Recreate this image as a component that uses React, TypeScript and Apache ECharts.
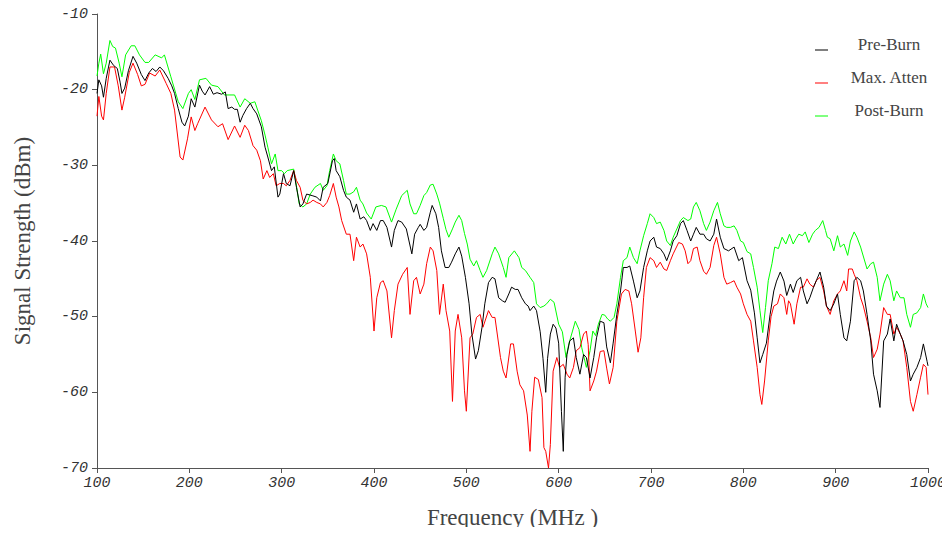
import React, { useEffect, useRef } from "react";
import * as echarts from "echarts";

// Frequency (MHz) / signal strength (dBm) pairs
const preBurn: [number, number][] = [
  [100, -20.5], [102, -18.7], [105, -19.5], [107, -21], [110, -18.5], [114, -16.1], [118, -16.8], [122, -17.2],
  [125, -19], [127, -20.5], [130, -19.8], [134, -17.5], [139, -15.6], [143, -16.5], [148, -18], [152, -18.8],
  [156, -17.8], [160, -17.2], [164, -17.6], [168, -17.0], [172, -17.5], [177, -18.5], [181, -19.5], [184, -20.5],
  [188, -22.5], [192, -24.3], [195, -24.8], [199, -23.5], [202, -21.2], [206, -22.3], [211, -19.4], [214, -20.2],
  [217, -20.7], [222, -19.6], [226, -20.6], [230, -20.4], [235, -20.6], [239, -20.3], [242, -22.5], [246, -22.3],
  [249, -22.6], [252, -22.6], [255, -24.3], [258, -23.4], [262, -22.5], [266, -21.8], [269, -22.5], [273, -23.2],
  [278, -24.9], [282, -27.6], [285, -28.9], [289, -30.7], [292, -30.2], [296, -34.2], [298, -33.8], [302, -31.1],
  [305, -32.4], [309, -32.7], [313, -30.7], [316, -32.9], [320, -35.5], [323, -35.1], [327, -33.8], [333, -34.0],
  [338, -34.2], [342, -34.7], [345, -32.9], [350, -32.4], [355, -29.4], [357, -29.1], [359, -30.7], [363, -31.5],
  [367, -33.3], [370, -34.2], [374, -34.6], [378, -36.2], [381, -35.1], [385, -37.1], [389, -36.8], [392, -37.3],
  [396, -38.6], [399, -37.7], [403, -38.6], [407, -37.3], [410, -37.3], [414, -38.2], [419, -40.8], [422, -38.6],
  [426, -37.3], [430, -37.5], [435, -38.4], [441, -41.7], [444, -39.1], [448, -38.2], [450, -37.8], [454, -38.6],
  [457, -38.2], [461, -36.2], [463, -35.3], [467, -36.4], [470, -38.2], [473, -41.3], [477, -43.5], [481, -43.5],
  [484, -42.8], [488, -41.7], [492, -40.8], [495, -42.0], [499, -44.8], [503, -48.3], [506, -52.3], [510, -55.6],
  [513, -54.5], [517, -51.4], [520, -48.3], [524, -45.5], [528, -44.8], [531, -45.0], [535, -47.5], [539, -47.9],
  [542, -48.1], [546, -47.0], [549, -46.1], [553, -46.4], [556, -46.4], [560, -47.5], [564, -48.3], [567, -48.6],
  [569, -49.2], [573, -48.6], [576, -49.2], [580, -52.0], [583, -55.5], [586, -60.0], [588, -55.5], [591, -52.3],
  [594, -51.0], [597, -51.5], [600, -53.5], [603, -62.5], [605, -67.8], [607, -58.0], [609, -55.0], [612, -53.2],
  [616, -52.8], [619, -55.4], [623, -57.6], [627, -55.0], [630, -55.4], [634, -58.1], [638, -55.4], [641, -52.8],
  [645, -50.6], [649, -50.8], [652, -54.0], [656, -56.1], [659, -53.5], [663, -49.7], [667, -46.6], [670, -43.5],
  [674, -43.5], [677, -43.3], [681, -45.3], [685, -47.5], [688, -46.6], [692, -43.5], [696, -41.3], [699, -40.0],
  [703, -39.5], [706, -40.8], [710, -41.0], [714, -41.7], [717, -42.6], [721, -41.3], [724, -40.0], [728, -39.3],
  [732, -37.7], [735, -37.3], [739, -38.6], [743, -40.0], [746, -39.1], [749, -38.2], [753, -39.1], [757, -39.1],
  [760, -39.7], [764, -40.0], [768, -39.1], [771, -37.1], [775, -39.5], [779, -41.0], [784, -41.3], [790, -40.8],
  [795, -42.6], [799, -42.2], [804, -45.25], [808, -46.5], [812, -49.5], [815, -52.8], [818, -56.1], [821, -55.0],
  [825, -53.5], [829, -49.7], [833, -46.6], [836, -45.3], [840, -44.1], [844, -45.3], [847, -47.2], [851, -45.7],
  [854, -46.8], [858, -45.25], [862, -44.8], [865, -46.6], [869, -48.3], [872, -47.5], [876, -46.1], [879, -45.25],
  [883, -44.1], [887, -46.1], [890, -48.6], [894, -49.2], [898, -48.3], [902, -47.0], [905, -49.7], [909, -52.8],
  [912, -53.2], [916, -50.6], [920, -45.25], [923, -44.8], [927, -45.25], [930, -46.6], [934, -49.7], [938, -53.2],
  [941, -57.6], [945, -59.8], [948, -62.0], [952, -53.2], [956, -52.3], [959, -50.3], [963, -53.2], [966, -51.0],
  [970, -52.3], [973, -53.2], [977, -55.0], [981, -58.5], [984, -57.6], [988, -56.7], [992, -55.4], [995, -53.6],
  [999, -55.9], [1000, -56.5],
];

const maxAtten: [number, number][] = [
  [100, -23.5], [102, -20.9], [105, -23.5], [107, -24.0], [110, -20.5], [114, -17.0], [119, -17.0], [123, -19.5],
  [127, -22.7], [130, -21.0], [135, -17.7], [139, -16.5], [144, -18.0], [148, -19.5], [152, -19.3], [157, -17.8],
  [163, -18.2], [168, -17.4], [175, -19.2], [180, -20.5], [184, -22.7], [190, -28.9], [193, -29.3], [198, -26.5],
  [202, -23.6], [206, -25.4], [209, -24.5], [217, -22.3], [224, -24.0], [231, -24.9], [236, -24.5], [242, -26.6],
  [249, -24.8], [255, -26.3], [260, -24.7], [264, -25.4], [269, -27.4], [273, -28.0], [277, -29.4], [280, -31.8],
  [284, -30.7], [287, -31.6], [291, -31.1], [294, -32.7], [298, -32.4], [302, -32.4], [305, -32.7], [309, -32.0],
  [313, -30.7], [316, -32.0], [320, -32.9], [323, -34.6], [327, -35.1], [331, -34.9], [334, -34.6], [338, -34.9],
  [342, -35.1], [345, -35.5], [349, -34.9], [352, -34.0], [356, -32.4], [359, -34.2], [362, -35.5], [365, -37.3],
  [370, -39.1], [374, -39.1], [378, -42.6], [381, -39.5], [385, -40.8], [388, -40.4], [392, -41.7], [396, -44.8],
  [400, -51.9], [403, -47.5], [407, -45.5], [410, -45.25], [414, -46.6], [419, -52.8], [422, -49.2], [426, -45.7],
  [431, -44.4], [436, -43.5], [439, -49.7], [443, -45.25], [446, -44.8], [450, -47.0], [454, -45.7], [457, -43.0],
  [461, -40.8], [464, -41.3], [468, -43.9], [471, -49.7], [475, -45.7], [478, -49.2], [482, -51.9], [485, -61.2],
  [488, -51.9], [491, -49.7], [495, -52.8], [498, -59.8], [500, -62.5], [504, -52.8], [507, -52.3], [511, -50.1],
  [515, -49.7], [518, -51.4], [524, -49.2], [528, -50.1], [531, -50.1], [537, -55.4], [540, -57.2], [543, -58.1],
  [548, -53.6], [551, -53.6], [555, -57.2], [558, -59.0], [562, -59.8], [566, -63.0], [569, -67.8], [571, -62.5],
  [574, -58.0], [578, -58.3], [582, -60.7], [584, -67.3], [586, -67.8], [589, -70.0], [591, -66.9], [594, -57.2],
  [598, -55.4], [601, -56.7], [605, -56.3], [609, -57.6], [612, -58.1], [616, -56.7], [619, -54.5], [623, -54.1],
  [627, -52.3], [630, -51.9], [632, -53.7], [634, -59.8], [638, -58.5], [641, -57.2], [645, -54.6], [649, -54.5],
  [652, -56.8], [655, -58.9], [659, -56.7], [663, -50.6], [668, -47.0], [672, -46.4], [676, -46.6], [679, -48.3],
  [683, -51.9], [686, -54.7], [689, -52.8], [692, -47.5], [695, -43.5], [699, -42.2], [703, -42.6], [706, -43.5],
  [710, -42.8], [714, -43.7], [717, -43.9], [721, -42.6], [724, -41.7], [730, -40.2], [734, -40.4], [737, -41.3],
  [740, -43.0], [743, -42.6], [746, -41.0], [750, -40.8], [753, -42.6], [757, -44.0], [760, -44.4], [764, -43.5],
  [768, -40.6], [771, -39.5], [775, -41.7], [779, -44.8], [782, -45.7], [786, -45.5], [790, -45.25], [793, -46.1],
  [797, -47.0], [800, -48.3], [804, -49.7], [808, -50.6], [811, -53.2], [815, -56.7], [818, -60.3], [820, -61.6],
  [823, -58.5], [827, -53.2], [830, -50.0], [833, -48.6], [837, -48.3], [840, -47.0], [844, -47.5], [847, -49.7],
  [849, -47.9], [851, -48.3], [855, -51.0], [858, -48.3], [862, -46.1], [865, -46.1], [869, -45.0], [872, -45.7],
  [876, -46.1], [879, -45.25], [883, -44.8], [887, -46.6], [890, -48.6], [894, -49.7], [898, -47.9], [902, -47.0],
  [905, -46.6], [909, -45.25], [912, -46.6], [914, -43.7], [918, -43.7], [920, -44.4], [923, -45.25], [927, -47.5],
  [930, -48.6], [934, -50.6], [938, -52.8], [941, -55.4], [945, -54.3], [948, -52.3], [952, -48.8], [956, -49.7],
  [959, -49.7], [963, -52.3], [966, -51.4], [970, -52.3], [973, -53.2], [977, -56.7], [981, -61.2], [984, -62.5],
  [988, -60.3], [992, -58.0], [995, -56.3], [998, -56.7], [1000, -60.3],
];

const postBurn: [number, number][] = [
  [100, -18.2], [102, -16.5], [104, -15.3], [107, -17.9], [110, -16.5], [114, -13.5], [117, -14.3], [120, -14.5],
  [124, -16.5], [127, -18.3], [131, -15.4], [137, -14.2], [141, -14.2], [146, -15.4], [152, -16.4], [156, -16.4],
  [163, -15.4], [170, -15.8], [173, -15.4], [180, -18.3], [188, -21.6], [193, -22.5], [199, -20.5], [202, -20.0],
  [206, -21.3], [211, -18.7], [218, -18.5], [224, -19.4], [231, -19.6], [238, -20.7], [244, -20.7], [249, -20.7],
  [255, -22.3], [260, -21.2], [266, -21.8], [271, -21.6], [274, -22.7], [278, -24.1], [282, -26.0], [285, -27.6],
  [289, -29.8], [293, -28.5], [296, -30.7], [300, -30.7], [303, -31.1], [306, -30.7], [313, -30.5], [316, -32.7],
  [319, -35.1], [323, -35.5], [327, -35.1], [331, -33.8], [336, -32.9], [342, -32.4], [345, -33.3], [349, -32.7],
  [352, -30.7], [356, -28.5], [359, -29.4], [363, -29.8], [367, -32.0], [370, -33.8], [374, -33.8], [378, -33.5],
  [381, -32.9], [385, -34.6], [388, -35.1], [392, -36.3], [397, -37.1], [402, -35.5], [408, -35.3], [413, -35.5],
  [419, -37.5], [424, -35.8], [430, -34.0], [436, -33.3], [439, -35.1], [443, -36.4], [446, -36.4], [450, -35.3],
  [454, -34.0], [457, -33.6], [461, -32.6], [464, -32.5], [468, -33.8], [471, -35.0], [475, -37.0], [478, -38.5],
  [481, -39.5], [485, -38.4], [488, -37.5], [492, -36.6], [495, -37.3], [498, -39.0], [501, -40.4], [504, -42.4],
  [508, -43.3], [511, -42.6], [515, -43.9], [518, -44.8], [522, -43.9], [528, -41.7], [531, -40.8], [535, -41.7],
  [540, -43.5], [543, -44.8], [546, -42.2], [552, -41.3], [557, -42.2], [560, -43.5], [564, -43.9], [569, -44.8],
  [573, -45.5], [576, -48.3], [580, -48.8], [584, -48.6], [587, -48.3], [591, -47.7], [595, -48.1], [600, -51.0],
  [604, -52.0], [608, -55.4], [611, -53.6], [615, -51.9], [618, -50.6], [622, -51.7], [625, -54.1], [630, -56.7],
  [634, -54.5], [637, -51.9], [640, -52.5], [643, -51.0], [647, -49.7], [650, -49.8], [653, -50.3], [656, -50.6],
  [660, -50.1], [663, -48.3], [667, -44.8], [670, -42.6], [674, -42.2], [677, -40.8], [681, -42.2], [685, -43.0],
  [688, -41.3], [692, -39.3], [696, -37.7], [699, -36.4], [703, -36.9], [706, -37.7], [710, -37.5], [714, -38.6],
  [717, -40.0], [721, -40.6], [724, -39.5], [728, -38.4], [732, -37.3], [735, -36.9], [740, -37.3], [743, -37.1],
  [746, -35.5], [749, -34.9], [753, -36.0], [757, -37.7], [760, -38.6], [764, -37.5], [768, -36.0], [772, -34.9],
  [775, -36.4], [779, -38.0], [782, -38.2], [786, -38.2], [790, -38.0], [793, -38.6], [797, -40.0], [800, -40.2],
  [804, -41.4], [808, -41.7], [811, -43.5], [815, -46.1], [818, -49.2], [821, -52.1], [824, -48.8], [827, -45.25],
  [831, -43.0], [834, -40.8], [838, -41.0], [842, -39.5], [846, -40.4], [850, -39.1], [854, -40.4], [857, -39.7],
  [860, -39.1], [864, -39.3], [867, -38.8], [871, -40.2], [875, -39.1], [878, -38.6], [882, -38.2], [886, -37.3],
  [889, -38.6], [891, -39.5], [894, -39.7], [898, -41.3], [902, -39.3], [905, -40.8], [909, -40.4], [913, -41.9],
  [916, -40.0], [920, -38.8], [923, -39.5], [927, -40.8], [934, -43.7], [938, -43.0], [941, -42.8], [945, -44.8],
  [948, -47.9], [952, -45.7], [956, -44.4], [959, -45.25], [963, -47.9], [966, -46.6], [970, -47.5], [974, -47.5],
  [977, -49.7], [981, -51.4], [984, -49.7], [988, -49.5], [992, -48.8], [995, -47.0], [998, -48.3], [1000, -48.8],
];

const seriesNames = ["Pre-Burn", "Max. Atten", "Post-Burn"];
const seriesColors = ["#000000", "#ff0000", "#00ff00"];
const xTicks = { min: 100, max: 1000, interval: 100 };
const yTicks = { min: -70, max: -10, interval: 10 };

export default function App() {
  const ref = useRef<HTMLDivElement>(null);
  useEffect(() => {
    if (!ref.current) return;
    const chart = echarts.init(ref.current, null, { renderer: "svg" });
    const tickFont = {
      fontFamily: "'Liberation Mono', 'DejaVu Sans Mono', monospace",
      fontStyle: "italic" as const,
      fontSize: 15,
      color: "#333",
    };
    const nameFont = {
      fontFamily: "'Liberation Serif', 'DejaVu Serif', serif",
      fontSize: 23,
      color: "#444",
    };
    const datasets = [preBurn, maxAtten, postBurn];
    chart.setOption({
      animation: false,
      backgroundColor: "#ffffff",
      grid: { left: 97, right: 22, top: 14, bottom: 67, outerBoundsMode: "none", containLabel: false },
      legend: {
        orient: "vertical",
        left: 815,
        top: 36,
        padding: 0,
        itemGap: 16,
        itemWidth: 13,
        itemHeight: 1,
        icon: "rect",
        data: seriesNames,
        formatter: (name: string) => `{a|${name}}`,
        textStyle: {
          rich: {
            a: {
              width: 112,
              align: "center",
              lineHeight: 28,
              verticalAlign: "top",
              fontFamily: "'Liberation Serif', 'DejaVu Serif', serif",
              fontSize: 17,
              color: "#444",
            },
          },
        },
      },
      xAxis: {
        type: "value",
        min: xTicks.min,
        max: xTicks.max,
        interval: xTicks.interval,
        name: "Frequency (MHz )",
        nameLocation: "middle",
        nameGap: 38,
        nameMoveOverlap: false,
        nameTextStyle: nameFont,
        axisLine: { lineStyle: { color: "#555", width: 1 } },
        axisTick: { show: true, length: 5, lineStyle: { color: "#555" } },
        axisLabel: { ...tickFont, margin: 8, formatter: (v: number) => String(v) },
        splitLine: { show: false },
      },
      yAxis: {
        type: "value",
        min: yTicks.min,
        max: yTicks.max,
        interval: yTicks.interval,
        name: "Signal Strength (dBm)",
        nameLocation: "middle",
        nameGap: 63,
        nameMoveOverlap: false,
        nameTextStyle: nameFont,
        axisLine: { show: true, lineStyle: { color: "#555", width: 1 } },
        axisTick: { show: true, length: 5, lineStyle: { color: "#555" } },
        axisLabel: { ...tickFont, margin: 9, formatter: (v: number) => String(v) },
        splitLine: { show: false },
      },
      series: datasets.map((d, i) => ({
        name: seriesNames[i],
        type: "line",
        data: d,
        showSymbol: false,
        symbol: "none",
        lineStyle: { color: seriesColors[i], width: 1 },
        itemStyle: { color: seriesColors[i] },
        z: i === 2 ? 1 : i === 0 ? 3 : 2,
      })),
    });
    return () => chart.dispose();
  }, []);
  return <div ref={ref} style={{ width: 950, height: 535, margin: -8 }} />;
}
